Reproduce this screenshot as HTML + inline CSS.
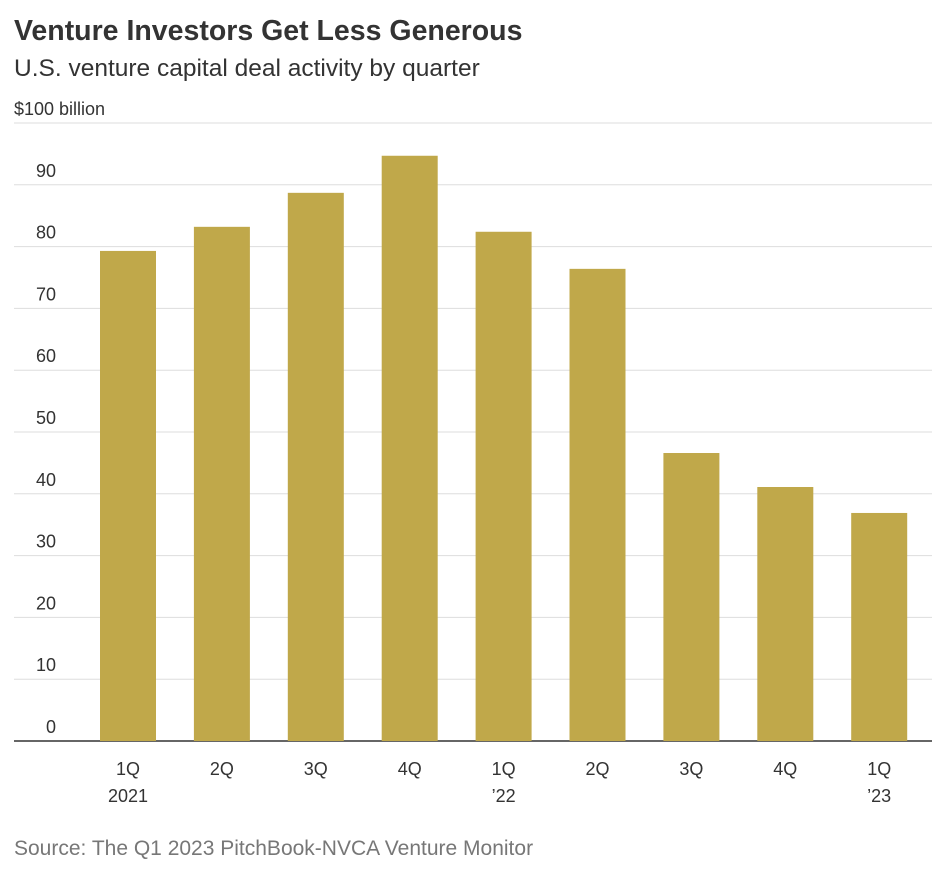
<!DOCTYPE html>
<html><head><meta charset="utf-8"><style>
body{margin:0;background:#fff;width:950px;height:872px;overflow:hidden;font-family:"Liberation Sans",sans-serif;}
</style></head><body>
<svg width="950" height="872">
<text x="14" y="40" font-size="28.5" font-weight="bold" fill="#333">Venture Investors Get Less Generous</text>
<text x="14" y="76" font-size="24.5" fill="#333">U.S. venture capital deal activity by quarter</text>
<g id="grid"></g>
<g id="bars"></g>
<g id="xl"></g>
<text x="14" y="855" font-size="21" fill="#777">Source: The Q1 2023 PitchBook-NVCA Venture Monitor</text>
</svg>
<script>
const categories=["1Q","2Q","3Q","4Q","1Q","2Q","3Q","4Q","1Q"];
const years=["2021","","","","’22","","","","’23"];
const values=[79.3,83.2,88.7,94.7,82.4,76.4,46.6,41.1,36.9];
const ticks=[0,10,20,30,40,50,60,70,80,90,100];
const ns="http://www.w3.org/2000/svg";
const y=v=>741-v*6.18;
const x=i=>128+i*93.9;
const g=document.getElementById('grid'),b=document.getElementById('bars'),xl=document.getElementById('xl');
function mk(t,a,p){const e=document.createElementNS(ns,t);for(const k in a)e.setAttribute(k,a[k]);p.appendChild(e);return e;}
ticks.forEach(t=>{
 const l=mk('line',{x1:14,x2:932,y1:y(t),y2:y(t),stroke:t===0?'#333':'#ddd','stroke-width':t===0?1.5:1},g);
 
 
 const tx=mk('text',{x:t===100?14:56,y:y(t)-8,'font-size':18,fill:'#333','text-anchor':t===100?'start':'end'},g);
 tx.textContent=t===100?'$100 billion':String(t);
 
 
});
values.forEach((v,i)=>{
 const r=mk('rect',{x:x(i)-28,y:y(v),width:56,height:y(0)-y(v),fill:'#c0a84a'},b);
 
 
 const t1=mk('text',{x:x(i),y:775,'font-size':18,fill:'#333','text-anchor':'middle'},xl);
 t1.textContent=categories[i];
 
 
 if(years[i]){const t2=mk('text',{x:x(i),y:802,'font-size':18,fill:'#333','text-anchor':'middle'},xl);
 t2.textContent=years[i];
 
 }
});
</script>
</body></html>
